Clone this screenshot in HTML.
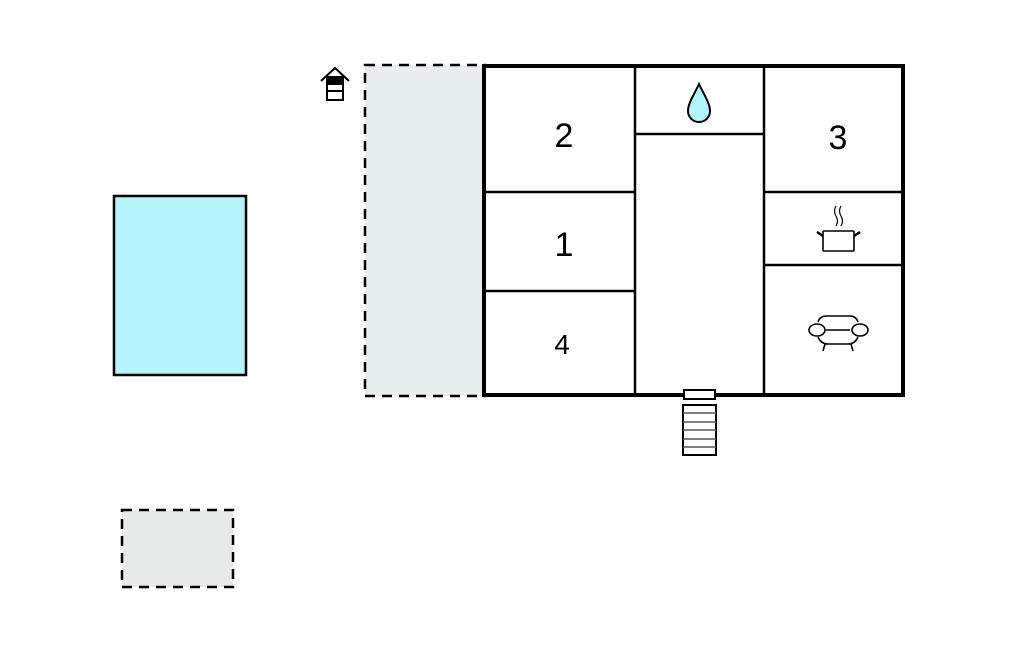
<!DOCTYPE html>
<html><head><style>body{margin:0;background:#fff}svg{display:block}</style></head><body>
<svg width="1024" height="652" viewBox="0 0 1024 652" xmlns="http://www.w3.org/2000/svg" font-family="Liberation Sans, sans-serif">
<rect x="114" y="196" width="132" height="179" fill="#b3f5fa" stroke="#000" stroke-width="2.5"/>
<rect x="122" y="510" width="111" height="77" fill="#e8eaea" stroke="#000" stroke-width="2.5" stroke-dasharray="10,7"/>
<rect x="365" y="65" width="120" height="331" fill="#e8eded" stroke="#000" stroke-width="2.5" stroke-dasharray="10,7"/>
<rect x="484" y="66" width="419" height="329" fill="#fff" stroke="#000" stroke-width="4"/>
<g stroke="#000" stroke-width="2.5" fill="none">
<line x1="635" y1="66" x2="635" y2="395"/>
<line x1="764" y1="66" x2="764" y2="395"/>
<line x1="484" y1="192" x2="635" y2="192"/>
<line x1="484" y1="291" x2="635" y2="291"/>
<line x1="635" y1="134" x2="764" y2="134"/>
<line x1="764" y1="192" x2="903" y2="192"/>
<line x1="764" y1="265" x2="903" y2="265"/>
</g>
<text x="564" y="147" font-size="34" text-anchor="middle">2</text>
<text x="564" y="256" font-size="34" text-anchor="middle">1</text>
<text x="562" y="354" font-size="28" text-anchor="middle">4</text>
<text x="838" y="149" font-size="34" text-anchor="middle">3</text>
<path d="M699 84 C694 95 688 103 688 111 A11 11 0 0 0 710 111 C710 103 704 95 699 84Z" fill="#b3f5fa" stroke="#000" stroke-width="2"/>
<g stroke="#000" stroke-width="1.6" fill="#fff">
<rect x="823" y="231" width="31" height="20" rx="1"/>
<path d="M823 236 L817 232 M854 236 L860 232" stroke-width="2.5"/>
<path d="M836 206 q-3 5 0 10 q3 5 0 10 M841 206 q-3 5 0 10 q3 5 0 10" fill="none" stroke-width="1.2"/>
<path d="M818 322 q2-6 8-6 h24 q6 0 8 6 M818 337 q3 7 10 7 h20 q7 0 10-7 M826 330 h24 M825 344 l-2 7 M851 344 l2 7" fill="none"/>
<ellipse cx="817" cy="330" rx="8" ry="6"/><ellipse cx="860" cy="330" rx="8" ry="6"/>
</g>
<g stroke="#000" fill="#fff">
<rect x="684" y="390" width="31" height="9" stroke-width="2"/>
<rect x="683" y="405" width="33" height="50" stroke-width="2"/>
<path d="M683 413 h33 M683 422 h33 M683 430 h33 M683 439 h33 M683 447 h33" stroke="#555" stroke-width="1.5"/>
</g>
<g stroke="#000" stroke-width="2" fill="#fff">
<path d="M321 81 L335 68 L349 81" fill="none"/>
<rect x="327" y="77" width="16" height="23"/>
<rect x="327" y="77" width="16" height="7" fill="#000"/>
<line x1="327" y1="91" x2="343" y2="91"/>
</g>
</svg>
</body></html>
